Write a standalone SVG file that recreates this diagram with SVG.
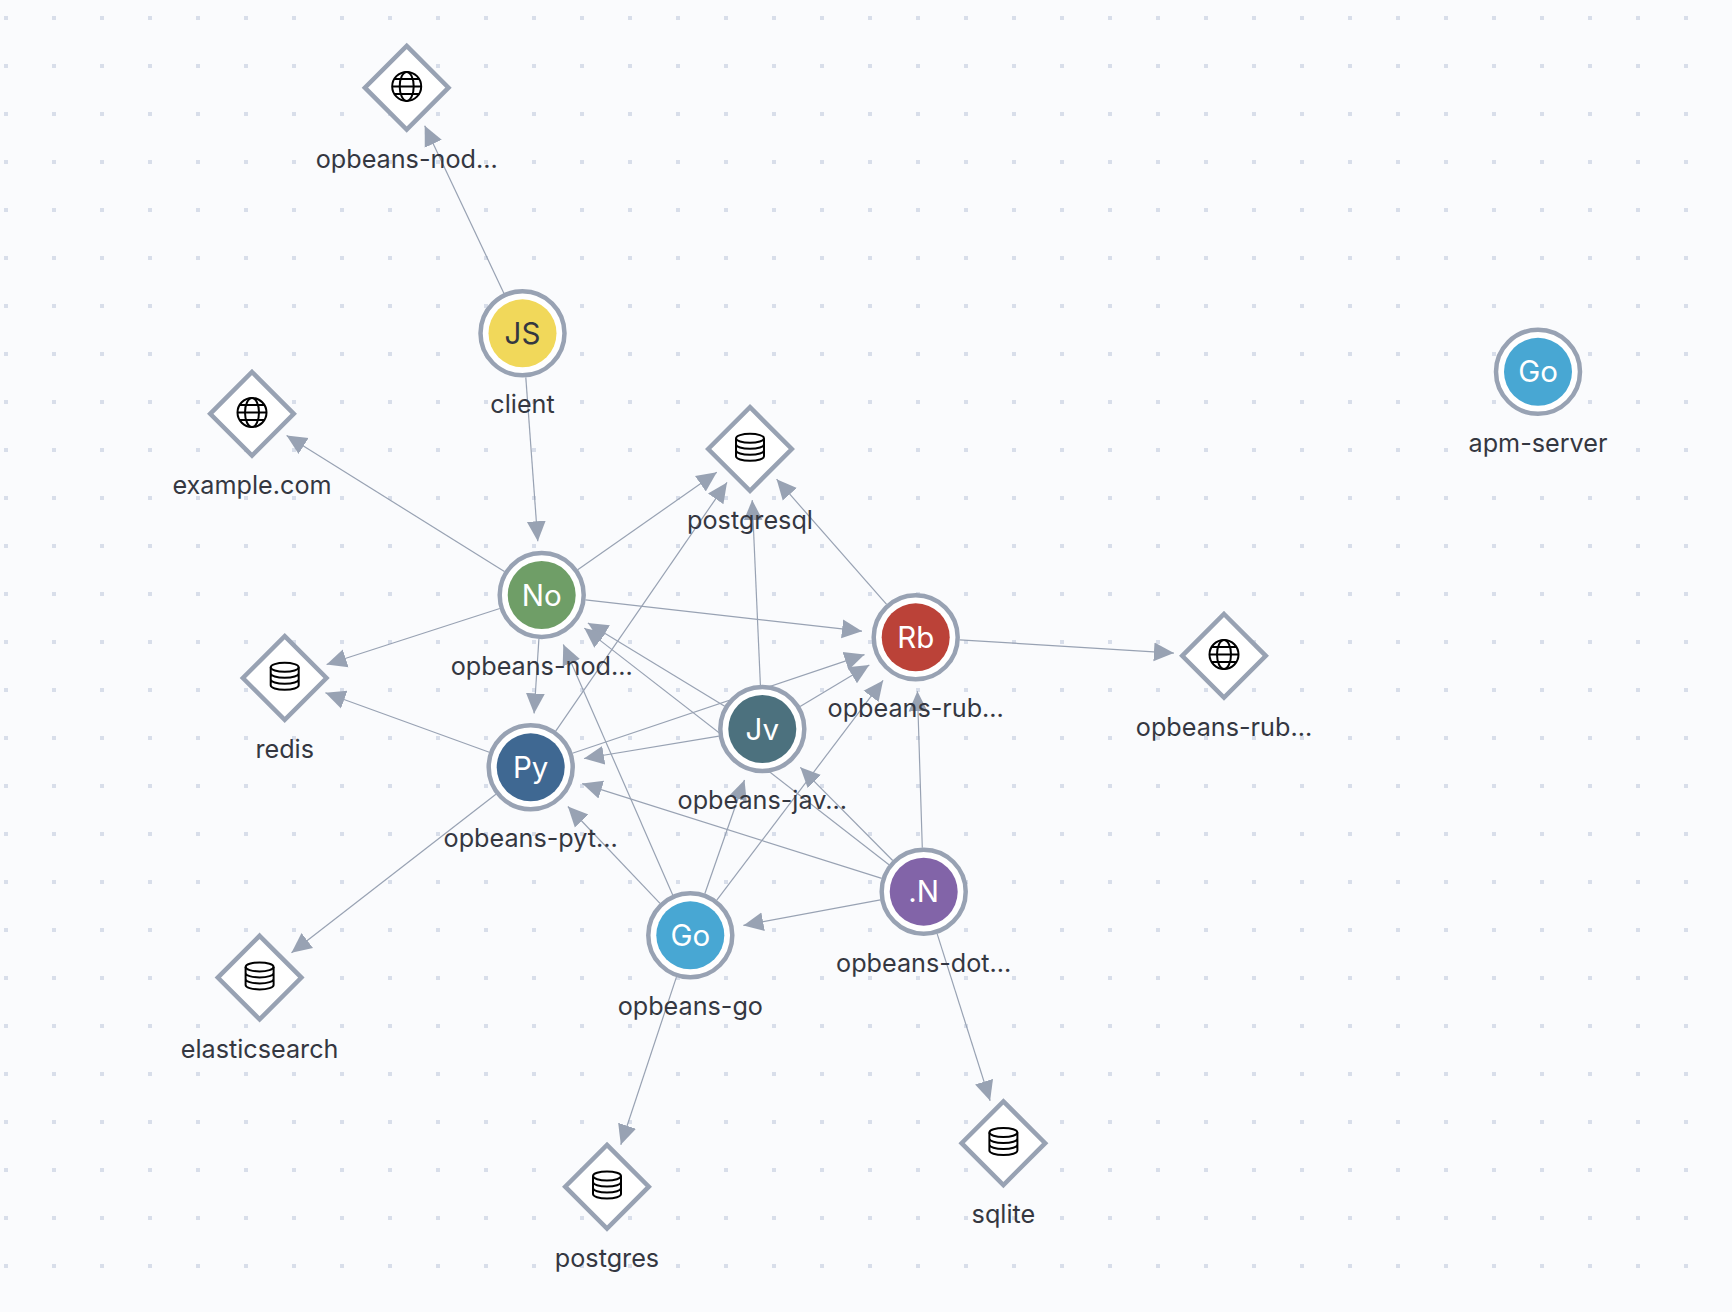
<svg xmlns="http://www.w3.org/2000/svg" width="1732" height="1312" viewBox="0 0 1732 1312">
<style>
.bg{fill:#fafbfd}
.ring{fill:#fff;stroke:#98a2b3;stroke-width:4.5}
.dia{fill:#fff;stroke:#98a2b3;stroke-width:4.5;stroke-linejoin:miter}
.lbl{font-family:Inter,"Liberation Sans",sans-serif;font-size:25.2px;fill:#343741;text-anchor:middle}
.ini{font-family:Inter,"Liberation Sans",sans-serif;font-size:29.5px;fill:#fff;text-anchor:middle}
.e{stroke:#98a2b3;stroke-width:1.2;fill:none;marker-end:url(#arrow)}
.ic{fill:none;stroke:#000;stroke-width:2}
</style>
<defs>
<pattern id="dots" width="48" height="48" patternUnits="userSpaceOnUse"><rect x="4" y="16" width="4" height="4" fill="#d8deea"/></pattern>
<marker id="arrow" markerUnits="userSpaceOnUse" markerWidth="22" markerHeight="22" refX="20" refY="10" orient="auto"><path d="M0,0.6 L20,10 L0,19.4 Z" fill="#98a2b3"/></marker>
<g id="diamond"><path class="dia" d="M0,-41.8 L41.8,0 L0,41.8 L-41.8,0 Z"/></g>
<g id="globe" class="ic"><circle r="14.5"/><ellipse rx="7" ry="14.5"/><path d="M-14.5,0H14.5M-12.5,-7.5H12.5M-12.5,7.5H12.5"/></g>
<g id="db" class="ic"><ellipse cy="-9" rx="14" ry="4.5"/><path d="M-14,-9V9C-14,11.5 -8,13.5 0,13.5C8,13.5 14,11.5 14,9V-9M-14,-3C-14,-0.5 -8,1.5 0,1.5C8,1.5 14,-0.5 14,-3M-14,3C-14,5.5 -8,7.5 0,7.5C8,7.5 14,5.5 14,3"/></g>
</defs>
<rect class="bg" width="1732" height="1312"/>
<rect fill="url(#dots)" width="1732" height="1312"/>
<g id="connectors">
<line class="e" x1="504.1" y1="293.7" x2="424.7" y2="125.7"/>
<line class="e" x1="525.8" y1="377.4" x2="537.8" y2="541.2"/>
<line class="e" x1="504.4" y1="571.6" x2="286.6" y2="435.4"/>
<line class="e" x1="577.7" y1="569.7" x2="716.8" y2="472.3"/>
<line class="e" x1="585.4" y1="599.9" x2="862" y2="631.2"/>
<line class="e" x1="499.8" y1="608.5" x2="326.6" y2="664.5"/>
<line class="e" x1="538.9" y1="638.9" x2="534.1" y2="713.4"/>
<line class="e" x1="489.3" y1="752.3" x2="325.4" y2="692.8"/>
<line class="e" x1="555.7" y1="731.1" x2="727" y2="482.4"/>
<line class="e" x1="572.4" y1="753.2" x2="864.5" y2="654.6"/>
<line class="e" x1="495.9" y1="794.3" x2="291.5" y2="952.8"/>
<line class="e" x1="724.7" y1="706.2" x2="587.9" y2="623"/>
<line class="e" x1="800.1" y1="706.4" x2="869.3" y2="665"/>
<line class="e" x1="718.9" y1="736.2" x2="584" y2="758.5"/>
<line class="e" x1="760.4" y1="685" x2="752.2" y2="500.1"/>
<line class="e" x1="886.6" y1="604.3" x2="776.6" y2="479.2"/>
<line class="e" x1="959.6" y1="639.8" x2="1173.9" y2="653.1"/>
<line class="e" x1="922.3" y1="847.7" x2="917.4" y2="691.3"/>
<line class="e" x1="892.7" y1="860.5" x2="800.3" y2="767.3"/>
<line class="e" x1="881.7" y1="878.4" x2="582.2" y2="783.6"/>
<line class="e" x1="880.4" y1="899.8" x2="743.4" y2="925.4"/>
<line class="e" x1="937.1" y1="933.6" x2="990.1" y2="1100.8"/>
<line class="e" x1="889" y1="864.7" x2="584.3" y2="628.1"/>
<line class="e" x1="660" y1="903.4" x2="567.9" y2="806.5"/>
<line class="e" x1="672.7" y1="895" x2="563.3" y2="644.5"/>
<line class="e" x1="704.8" y1="893.8" x2="744.5" y2="780"/>
<line class="e" x1="716.8" y1="900.2" x2="883.1" y2="680.4"/>
<line class="e" x1="676.4" y1="977.1" x2="620.8" y2="1144.8"/>
</g>
<g id="ext-node" transform="translate(406.7,87.7)"><use href="#diamond"/><use href="#globe" y="-1.3"/><text class="lbl" y="80">opbeans-nod...</text></g>
<g id="client" transform="translate(522.5,333.3)"><circle class="ring" r="42"/><circle r="34" fill="#f1d85a"/><text class="ini" y="10.5" style="fill:#343741">JS</text><text class="lbl" y="80">client</text></g>
<g id="example" transform="translate(252,413.8)"><use href="#diamond"/><use href="#globe" y="-1.3"/><text class="lbl" y="80">example.com</text></g>
<g id="postgresql" transform="translate(750,449)"><use href="#diamond"/><use href="#db" y="-1.7"/><text class="lbl" y="80">postgresql</text></g>
<g id="node" transform="translate(541.7,595)"><circle class="ring" r="42"/><circle r="34" fill="#6f9e67"/><text class="ini" y="10.5">No</text><text class="lbl" y="80">opbeans-nod...</text></g>
<g id="redis" transform="translate(284.7,678)"><use href="#diamond"/><use href="#db" y="-1.7"/><text class="lbl" y="80">redis</text></g>
<g id="python" transform="translate(530.7,767.3)"><circle class="ring" r="42"/><circle r="34" fill="#3f6892"/><text class="ini" y="10.5">Py</text><text class="lbl" y="80">opbeans-pyt...</text></g>
<g id="java" transform="translate(762.3,729)"><circle class="ring" r="42"/><circle r="34" fill="#4c717e"/><text class="ini" y="10.5">Jv</text><text class="lbl" y="80">opbeans-jav...</text></g>
<g id="ruby" transform="translate(915.7,637.3)"><circle class="ring" r="42"/><circle r="34" fill="#bb4238"/><text class="ini" y="10.5">Rb</text><text class="lbl" y="80">opbeans-rub...</text></g>
<g id="ext-ruby" transform="translate(1224,655.8)"><use href="#diamond"/><use href="#globe" y="-1.3"/><text class="lbl" y="80">opbeans-rub...</text></g>
<g id="dotnet" transform="translate(923.7,891.7)"><circle class="ring" r="42"/><circle r="34" fill="#8264a8"/><text class="ini" y="10.5">.N</text><text class="lbl" y="80">opbeans-dot...</text></g>
<g id="go" transform="translate(690.3,935.3)"><circle class="ring" r="42"/><circle r="34" fill="#48a7d3"/><text class="ini" y="10.5">Go</text><text class="lbl" y="80">opbeans-go</text></g>
<g id="elasticsearch" transform="translate(259.6,977.6)"><use href="#diamond"/><use href="#db" y="-1.7"/><text class="lbl" y="80">elasticsearch</text></g>
<g id="postgres" transform="translate(607,1186.7)"><use href="#diamond"/><use href="#db" y="-1.7"/><text class="lbl" y="80">postgres</text></g>
<g id="sqlite" transform="translate(1003.4,1143.2)"><use href="#diamond"/><use href="#db" y="-1.7"/><text class="lbl" y="80">sqlite</text></g>
<g id="apm" transform="translate(1538,371.8)"><circle class="ring" r="42"/><circle r="34" fill="#48a7d3"/><text class="ini" y="10.5">Go</text><text class="lbl" y="80">apm-server</text></g>
</svg>
